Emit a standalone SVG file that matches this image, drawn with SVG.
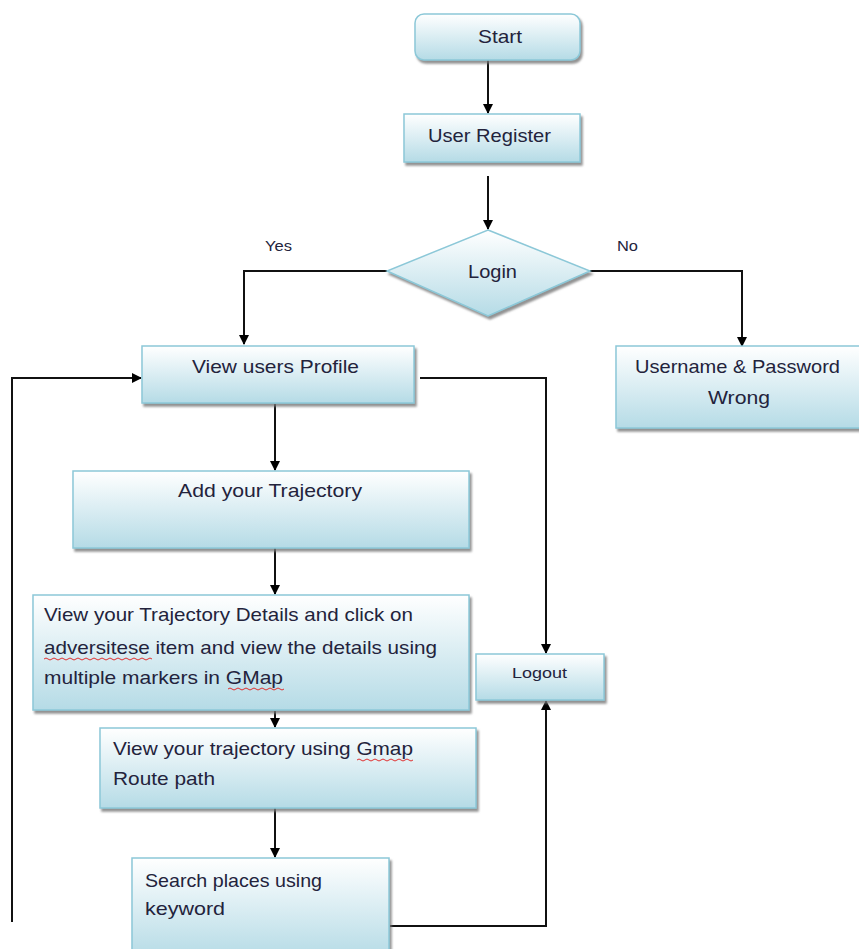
<svg xmlns="http://www.w3.org/2000/svg" width="859" height="949" viewBox="0 0 859 949">
<defs>
<linearGradient id="g" x1="0" y1="0" x2="0" y2="1">
<stop offset="0" stop-color="#ffffff"/>
<stop offset="1" stop-color="#b5dbe6"/>
</linearGradient>
<marker id="ah" viewBox="0 0 10 10" refX="9" refY="5" markerWidth="10" markerHeight="10" markerUnits="userSpaceOnUse" orient="auto">
<path d="M0,0 L10,5 L0,10 z" fill="#000"/>
</marker>
<filter id="sh" x="-5%" y="-5%" width="115%" height="125%">
<feDropShadow dx="2" dy="3" stdDeviation="0.8" flood-color="#777" flood-opacity="0.8"/>
</filter>
</defs>
<style>
.box{fill:url(#g);stroke:#8cc8d8;stroke-width:1.5;filter:url(#sh)}
.t{font-family:"Liberation Sans",Arial,sans-serif;font-size:19px;fill:#23233c}
.s{font-size:14px}
.c{text-anchor:middle}
.ln{fill:none;stroke:#111;stroke-width:2}
.sq{fill:none;stroke:#e03030;stroke-width:1}
</style>
<rect width="859" height="949" fill="#fff"/>
<g id="connectors">
<line class="ln" x1="488" y1="60" x2="488" y2="113" marker-end="url(#ah)"/>
<line class="ln" x1="488" y1="176" x2="488" y2="229" marker-end="url(#ah)"/>
<polyline class="ln" points="387,271 244,271 244,344" marker-end="url(#ah)"/>
<polyline class="ln" points="590,271 742,271 742,346" marker-end="url(#ah)"/>
<polyline class="ln" points="12,922 12,378 141,378" marker-end="url(#ah)"/>
<polyline class="ln" points="420,378 546,378 546,653" marker-end="url(#ah)"/>
<line class="ln" x1="275" y1="404" x2="275" y2="470" marker-end="url(#ah)"/>
<line class="ln" x1="275" y1="535" x2="275" y2="594" marker-end="url(#ah)"/>
<line class="ln" x1="275" y1="711" x2="275" y2="727" marker-end="url(#ah)"/>
<line class="ln" x1="275" y1="803" x2="275" y2="857" marker-end="url(#ah)"/>
<polyline class="ln" points="390,926 546,926 546,701" marker-end="url(#ah)"/>
</g>
<g id="start">
<rect class="box" x="415" y="14" width="165" height="46" rx="9"/>
<text class="t" x="478" y="43" textLength="44" lengthAdjust="spacingAndGlyphs">Start</text>
</g>
<g id="register">
<rect class="box" x="404" y="114" width="176" height="48"/>
<text class="t" x="428" y="142" textLength="123" lengthAdjust="spacingAndGlyphs">User Register</text>
</g>
<g id="login">
<polygon class="box" points="488,230 590,271 488,316 387,271"/>
<text class="t" x="468" y="278" textLength="49" lengthAdjust="spacingAndGlyphs">Login</text>
</g>
<text class="t s" x="265" y="251" textLength="27" lengthAdjust="spacingAndGlyphs">Yes</text>
<text class="t s" x="617" y="251" textLength="21" lengthAdjust="spacingAndGlyphs">No</text>
<g id="profile">
<rect class="box" x="142" y="346" width="272" height="57"/>
<text class="t" x="192" y="373" textLength="167" lengthAdjust="spacingAndGlyphs">View users Profile</text>
</g>
<g id="wrong">
<rect class="box" x="616" y="346" width="250" height="82"/>
<text class="t" x="635" y="373" textLength="205" lengthAdjust="spacingAndGlyphs">Username &amp; Password</text>
<text class="t" x="708" y="404" textLength="62" lengthAdjust="spacingAndGlyphs">Wrong</text>
</g>
<g id="add">
<rect class="box" x="73" y="471" width="396" height="77"/>
<text class="t" x="178" y="497" textLength="184" lengthAdjust="spacingAndGlyphs">Add your Trajectory</text>
</g>
<g id="details">
<rect class="box" x="33" y="595" width="436" height="115"/>
<text class="t" x="44" y="621" textLength="369" lengthAdjust="spacingAndGlyphs">View your Trajectory Details and click on</text>
<text class="t" x="44" y="654" textLength="393" lengthAdjust="spacingAndGlyphs">adversitese item and view the details using</text>
<text class="t" x="44" y="684" textLength="239" lengthAdjust="spacingAndGlyphs">multiple markers in GMap</text>
<path class="sq" d="M44,659 q2,-2 4,0 t4,0 t4,0 t4,0 t4,0 t4,0 t4,0 t4,0 t4,0 t4,0 t4,0 t4,0 t4,0 t4,0 t4,0 t4,0 t4,0 t4,0 t4,0 t4,0 t4,0 t4,0 t4,0 t4,0 t4,0 t4,0 t4,0"/>
<path class="sq" d="M228,689 q2,-2 4,0 t4,0 t4,0 t4,0 t4,0 t4,0 t4,0 t4,0 t4,0 t4,0 t4,0 t4,0 t4,0 t4,0"/>
</g>
<g id="logout">
<rect class="box" x="476" y="654" width="128" height="46"/>
<text class="t" x="512" y="678" style="font-size:15.5px" textLength="55" lengthAdjust="spacingAndGlyphs">Logout</text>
</g>
<g id="route">
<rect class="box" x="100" y="728" width="376" height="80"/>
<text class="t" x="113" y="755" textLength="300" lengthAdjust="spacingAndGlyphs">View your trajectory using Gmap</text>
<text class="t" x="113" y="785" textLength="102" lengthAdjust="spacingAndGlyphs">Route path</text>
<path class="sq" d="M357,760 q2,-2 4,0 t4,0 t4,0 t4,0 t4,0 t4,0 t4,0 t4,0 t4,0 t4,0 t4,0 t4,0 t4,0 t4,0"/>
</g>
<g id="search">
<rect class="box" x="132" y="858" width="257" height="100"/>
<text class="t" x="145" y="887" textLength="177" lengthAdjust="spacingAndGlyphs">Search places using</text>
<text class="t" x="145" y="915" textLength="80" lengthAdjust="spacingAndGlyphs">keyword</text>
</g>
</svg>
